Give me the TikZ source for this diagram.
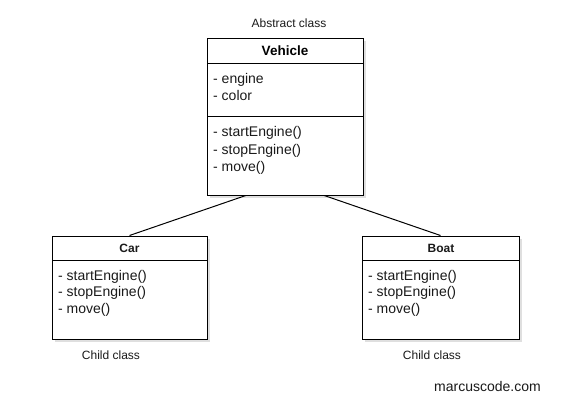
\documentclass[tikz,border=0pt]{standalone}
\usepackage{fontspec}
\setmainfont{Liberation Sans}
\usetikzlibrary{shadows,calc}
\definecolor{txt}{HTML}{1A1A1A}
\tikzset{
  x=1pt, y=-1pt,
  umlbox/.style={draw=black, line width=1pt, fill=white, inner sep=0pt,
    drop shadow={shadow xshift=2.5pt, shadow yshift=-2.5pt, opacity=0.25, fill=gray}},
  body/.style={anchor=base west, inner sep=0pt, text=txt, font=\fontsize{14}{17}\selectfont},
  title/.style={anchor=base, inner sep=0pt, text=txt, font=\bfseries\fontsize{12}{14}\selectfont},
  bigtitle/.style={anchor=base, inner sep=0pt, text=black, font=\bfseries\fontsize{13.5}{16}\selectfont},
  caption/.style={anchor=base, inner sep=0pt, text=txt, font=\fontsize{12}{14}\selectfont},
  divider/.style={draw=black, line width=1pt},
  link/.style={draw=black, line width=1pt}
}
\begin{document}
\begin{tikzpicture}
\useasboundingbox[fill=white] (0,0) rectangle (586,409);

% Vehicle
\node[umlbox, minimum width=156pt, minimum height=156pt] (veh) at (285,117) {};
\draw[divider] (207,64) -- (363,64);
\draw[divider] (207,117) -- (363,117);
\node[bigtitle] (vehT) at (285,56) {Vehicle};
\node[body] (va1) at (213,84) {- engine};
\node[body] (va2) at (213,101) {- color};
\node[body] (vm1) at (213,137) {- startEngine()};
\node[body] (vm2) at (213,154) {- stopEngine()};
\node[body] (vm3) at (213,171) {- move()};
\node[caption] (abs) at (289,27.5) {Abstract class};

% Car
\node[umlbox, minimum width=155pt, minimum height=103pt] (car) at (129.5,287.5) {};
\draw[divider] (52,260) -- (207,260);
\node[title] (carT) at (129.5,252) {Car};
\node[body] (cm1) at (58,280) {- startEngine()};
\node[body] (cm2) at (58,296.5) {- stopEngine()};
\node[body] (cm3) at (58,313) {- move()};
\node[caption] (carC) at (111,359.5) {Child class};

% Boat
\node[umlbox, minimum width=157pt, minimum height=103pt] (boat) at (440.5,287.5) {};
\draw[divider] (362,260) -- (519,260);
\node[title] (boatT) at (441,252) {Boat};
\node[body] (bm1) at (368,280) {- startEngine()};
\node[body] (bm2) at (368,296.5) {- stopEngine()};
\node[body] (bm3) at (368,313) {- move()};
\node[caption] (boatC) at (432,359.5) {Child class};

% connectors
\draw[link] ($(veh.south west)!0.25!(veh.south east)$) -- (car.north);
\draw[link] ($(veh.south west)!0.75!(veh.south east)$) -- (boat.north);

\node[anchor=base west, inner sep=0pt, text=txt, font=\fontsize{14}{17}\selectfont] (site) at (434,391) {marcuscode.com};
\end{tikzpicture}
\end{document}
